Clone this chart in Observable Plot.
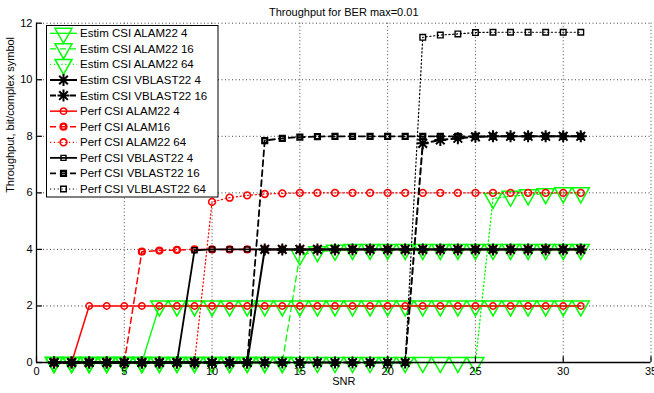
<!DOCTYPE html>
<html><head><meta charset="utf-8">
<script src="https://cdn.jsdelivr.net/npm/d3@7"></script>
<script src="https://cdn.jsdelivr.net/npm/@observablehq/plot@0.6"></script>
<style>body{margin:0;background:#fff} svg{display:block}</style>
</head><body><div id="chart"></div>
<script>
const snr = [1,2,3,4,5,6,7,8,9,10,11,12,13,14,15,16,17,18,19,20,21,22,23,24,25,26,27,28,29,30,31];
const xTicks = [0,5,10,15,20,25,30,35];
const yTicks = [0,2,4,6,8,10,12];
const titleText = "Throughput for BER max=0.01";
const xLabel = "SNR";
const yLabel = "Throughput, bit/complex symbol";
const seriesNames = ["Estim CSI ALAM22 4","Estim CSI ALAM22 16","Estim CSI ALAM22 64","Estim CSI VBLAST22 4","Estim CSI VBLAST22 16","Perf CSI ALAM22 4","Perf CSI ALAM16","Perf CSI ALAM22 64","Perf CSI VBLAST22 4","Perf CSI VBLAST22 16","Perf CSI VLBLAST22 64"];

const estAlam4  = [0,0,0,0,0,0,2,2,2,2,2,2,2,2,2,2,2,2,2,2,2,2,2,2,2,2,2,2,2,2,2];
const estAlam16 = [0,0,0,0,0,0,0,0,0,0,0,0,0,0,3.8,3.92,3.97,4,4,4,4,4,4,4,4,4,4,4,4,4,4];
const estAlam64 = [0,0,0,0,0,0,0,0,0,0,0,0,0,0,0,0,0,0,0,0,0,0,0,0,0,5.8,5.88,5.93,5.97,6,6];
const estVb4    = [0,0,0,0,0,0,0,0,0,0,0,0,4,4,4,4,4,4,4,4,4,4,4,4,4,4,4,4,4,4,4];
const estVb16   = [0,0,0,0,0,0,0,0,0,0,0,0,0,0,0,0,0,0,0,0,0,7.75,7.87,7.93,7.98,8,8,8,8,8,8];
const perfAlam4 = [0,0,2,2,2,2,2,2,2,2,2,2,2,2,2,2,2,2,2,2,2,2,2,2,2,2,2,2,2,2,2];
const perfAlam16= [0,0,0,0,0,3.92,3.96,3.98,4,4,4,4,4,4,4,4,4,4,4,4,4,4,4,4,4,4,4,4,4,4,4];
const perfAlam64= [0,0,0,0,0,0,0,0,0,5.68,5.83,5.91,5.96,5.98,6,6,6,6,6,6,6,6,6,6,6,6,6,6,6,6,6];
const perfVb4   = [0,0,0,0,0,0,0,0,3.97,4,4,4,4,4,4,4,4,4,4,4,4,4,4,4,4,4,4,4,4,4,4];
const perfVb16  = [0,0,0,0,0,0,0,0,0,0,0,0,7.85,7.93,7.97,7.99,8,8,8,8,8,8,8,8,8,8,8,8,8,8,8];
const perfVb64  = [0,0,0,0,0,0,0,0,0,0,0,0,0,0,0,0,0,0,0,0,0,11.5,11.58,11.62,11.67,11.68,11.68,11.68,11.68,11.68,11.68];

const allValues = [estAlam4, estAlam16, estAlam64, estVb4, estVb16, perfAlam4, perfAlam16, perfAlam64, perfVb4, perfVb16, perfVb64];

// custom marker shapes (Matlab-like)
const triDown = {draw(c, size){ const s = Math.sqrt(size/Math.PI); c.moveTo(-s,-0.59*s); c.lineTo(s,-0.59*s); c.lineTo(0,1.18*s); c.closePath(); }};
const star8 = {draw(c, size){ const s = Math.sqrt(size/Math.PI), d = s*0.72;
  c.moveTo(-s,0); c.lineTo(s,0); c.moveTo(0,-s); c.lineTo(0,s);
  c.moveTo(-d,-d); c.lineTo(d,d); c.moveTo(-d,d); c.lineTo(d,-d); }};
const circ = {draw(c, size){ const s = Math.sqrt(size/Math.PI); c.moveTo(s,0); c.arc(0,0,s,0,2*Math.PI); }};
const sq = {draw(c, size){ const s = Math.sqrt(size/Math.PI); c.rect(-s,-s,2*s,2*s); }};

const GREEN = "#00ff00", RED = "#ff0000", BLACK = "#000000";
const DASH = "6,4", DOT = "1.2,2.6";
const styles = [
  {color:GREEN, dash:null, sw:1.3, sym:triDown, r:8.5, msw:1.5},
  {color:GREEN, dash:DASH, sw:1.3, sym:triDown, r:8.5, msw:1.5},
  {color:GREEN, dash:DOT,  sw:1.3, sym:triDown, r:8.5, msw:1.5},
  {color:BLACK, dash:null, sw:2,   sym:star8,   r:6,   msw:2},
  {color:BLACK, dash:DASH, sw:2,   sym:star8,   r:6,   msw:2},
  {color:RED,   dash:null, sw:1.5, sym:circ,    r:3.2, msw:1.5},
  {color:RED,   dash:DASH, sw:1.5, sym:circ,    r:3.0, msw:2.2},
  {color:RED,   dash:DOT,  sw:1.2, sym:circ,    r:3.4, msw:1.6},
  {color:BLACK, dash:null, sw:1.8, sym:sq,      r:2.5, msw:1.4},
  {color:BLACK, dash:DASH, sw:1.8, sym:sq,      r:2.5, msw:2.2},
  {color:BLACK, dash:DOT,  sw:1.2, sym:sq,      r:2.8, msw:1.4}
];
const drawOrder = [0,1,2,5,6,7,8,9,10,3,4];

const tables = allValues.map(vals => snr.map((x,i) => ({x, y: vals[i]})));

const seriesMarks = [];
for (const k of drawOrder) {
  const st = styles[k];
  seriesMarks.push(Plot.line(tables[k], {x:"x", y:"y", stroke: st.color, strokeWidth: st.sw, strokeDasharray: st.dash, curve:"linear"}));
  seriesMarks.push(Plot.dot(tables[k], {x:"x", y:"y", symbol: st.sym, r: st.r, stroke: st.color, strokeWidth: st.msw, fill:"none"}));
}

const FONT = "'Liberation Sans', Arial, Helvetica, sans-serif";
const plot = Plot.plot({
  width: 654, height: 393,
  marginTop: 22.7, marginBottom: 31, marginLeft: 36, marginRight: 3.5,
  x: {domain:[0,35]},
  y: {domain:[0,12]},
  style: {fontFamily: FONT, fontSize: "11px", color: "#000", background: "#fff"},
  marks: [
    Plot.ruleX(xTicks.filter(d => d > 0), {stroke:"#444", strokeWidth:1, strokeDasharray:"1,2.5"}),
    Plot.ruleY(yTicks.filter(d => d > 0), {stroke:"#444", strokeWidth:1, strokeDasharray:"1,2.5"}),
    ...seriesMarks,
    Plot.ruleX([0], {stroke:"#000", strokeWidth:1.3}),
    Plot.ruleY([0], {stroke:"#000", strokeWidth:1.3}),
    Plot.axisX({ticks: xTicks, tickSize: 0, tickPadding: 5, label: null, fontSize: 11}),
    Plot.axisY({ticks: yTicks, tickSize: 0, tickPadding: 4, label: null, fontSize: 11}),
    Plot.ruleX(xTicks, {x: d => d, y1: 0, y2: 0.2, stroke:"#000", strokeWidth: 1.2}),
    Plot.ruleY(yTicks, {y: d => d, x1: 0, x2: 0.34, stroke:"#000", strokeWidth: 1.2}),
    Plot.text([titleText], {frameAnchor:"top", dy:-15, fontSize: 11}),
    Plot.text([xLabel], {frameAnchor:"bottom", dy: 22, fontSize: 11}),
    Plot.text([yLabel], {frameAnchor:"left", dx: -26, rotate: -90, fontSize: 11})
  ]
});
document.getElementById("chart").appendChild(plot);

// legend inside the axes (upper left), Matlab-style
const svg = d3.select(plot);
const lg = svg.append("g").attr("font-family", FONT).attr("font-size", 11.5).attr("text-anchor", "start");
lg.append("rect").attr("x", 46.5).attr("y", 25.5).attr("width", 171.5).attr("height", 171.5)
  .attr("fill", "#fff").attr("stroke", "#000").attr("stroke-width", 1);
seriesNames.forEach((name, i) => {
  const st = styles[i];
  const yy = 33.3 + i * 15.57;
  lg.append("line").attr("x1", 50).attr("x2", 77).attr("y1", yy).attr("y2", yy)
    .attr("stroke", st.color).attr("stroke-width", st.sw).attr("stroke-dasharray", st.dash);
  const p = d3.path(); st.sym.draw(p, Math.PI * st.r * st.r);
  lg.append("path").attr("d", p.toString()).attr("transform", `translate(63.5,${yy})`)
    .attr("fill", "none").attr("stroke", st.color).attr("stroke-width", st.msw);
  lg.append("text").attr("x", 80).attr("y", yy).attr("dy", "0.35em").attr("text-anchor", "start").attr("fill", "#000").text(name);
});
</script></body></html>
